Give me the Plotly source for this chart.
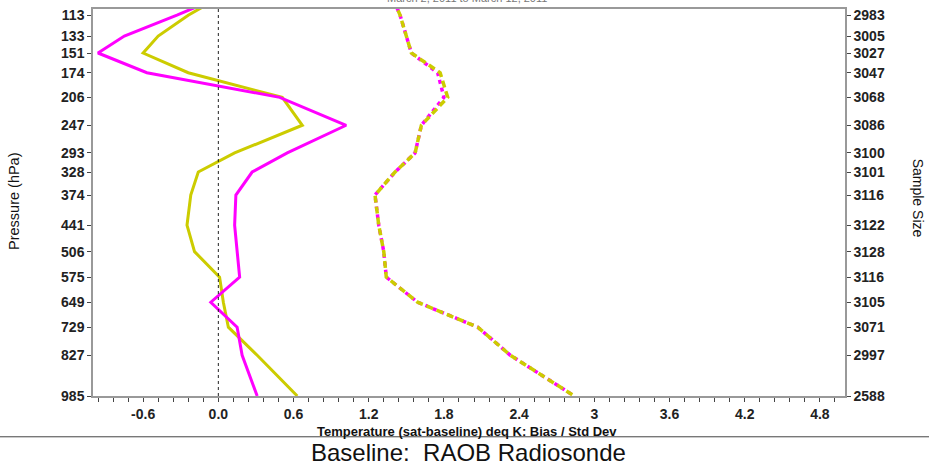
import plotly.graph_objects as go

# ---- data ----
levels = [100, 113, 133, 151, 174, 206, 247, 293, 328, 374, 441, 506, 575, 649, 729, 827, 985]
label_levels = [113, 133, 151, 174, 206, 247, 293, 328, 374, 441, 506, 575, 649, 729, 827, 985]
sample_size = [2983, 3005, 3027, 3047, 3068, 3086, 3100, 3101, 3116, 3122, 3128, 3116, 3105, 3071, 2997, 2588]

bias_magenta = [-0.05, -0.33, -0.75, -0.96, -0.57, 0.49, 1.02, 0.55, 0.27, 0.14, 0.13, 0.15, 0.17, -0.06, 0.15, 0.19, 0.31]
bias_yellow = [-0.03, -0.24, -0.48, -0.60, -0.24, 0.51, 0.67, 0.13, -0.16, -0.22, -0.25, -0.19, 0.01, 0.04, 0.08, 0.31, 0.63]
std_magenta = [1.40, 1.45, 1.50, 1.54, 1.75, 1.80, 1.62, 1.57, 1.41, 1.25, 1.28, 1.32, 1.34, 1.59, 2.07, 2.33, 2.84]
std_yellow = [1.40, 1.45, 1.50, 1.54, 1.77, 1.83, 1.62, 1.57, 1.41, 1.25, 1.28, 1.32, 1.34, 1.59, 2.07, 2.33, 2.84]

x_tickvals = [-0.6, 0.0, 0.6, 1.2, 1.8, 2.4, 3.0, 3.6, 4.2, 4.8]
x_ticktext = ["-0.6", "0.0", "0.6", "1.2", "1.8", "2.4", "3", "3.6", "4.2", "4.8"]

title_text = "March 2, 2011 to March 12, 2011"
x_title = "Temperature (sat-baseline) deq K: Bias / Std Dev"
baseline_text = "Baseline:&nbsp; RAOB Radiosonde"

# vertical pressure scale (p ** K)
K = 0.3
P_TOP, P_BOTTOM = 107.5, 985


def yc(p):
    return p ** K


y_levels = [yc(p) for p in levels]
y_ticks = [yc(p) for p in label_levels]
y_range = [yc(P_BOTTOM), yc(P_TOP)]

MAGENTA = "#FF00FF"
YELLOW = "#CCCC00"
FONT = "Liberation Sans, Arial, sans-serif"

fig = go.Figure()
fig.add_trace(go.Scatter(x=std_magenta, y=y_levels, mode="lines",
                         line=dict(color=MAGENTA, width=3.5, dash="4px,4px"), showlegend=False))
fig.add_trace(go.Scatter(x=std_yellow, y=y_levels, mode="lines",
                         line=dict(color=YELLOW, width=3.5, dash="7px,4px"), showlegend=False))
fig.add_trace(go.Scatter(x=bias_yellow, y=y_levels, mode="lines",
                         line=dict(color=YELLOW, width=3), showlegend=False))
fig.add_trace(go.Scatter(x=bias_magenta, y=y_levels, mode="lines",
                         line=dict(color=MAGENTA, width=3), showlegend=False))
# invisible trace to carry the right-hand sample-size axis
fig.add_trace(go.Scatter(x=[None] * len(y_ticks), y=y_ticks, yaxis="y2", mode="lines",
                         showlegend=False, hoverinfo="skip"))

tickfont = dict(family=FONT, size=14, color="#222", weight="bold")

fig.update_layout(
    width=929, height=467,
    margin=dict(l=93, r=84, t=7, b=71),
    paper_bgcolor="white", plot_bgcolor="white",
    showlegend=False,
    xaxis=dict(range=[-1, 5], tickmode="array", tickvals=x_tickvals, ticktext=x_ticktext,
               ticks="outside", ticklen=4, tickcolor="#444", tickfont=tickfont,
               showline=True, linecolor="#999", linewidth=1.5, mirror=True,
               showgrid=False, zeroline=False,
               minor=dict(tickmode="linear", tick0=0, dtick=0.12, ticks="outside",
                          ticklen=4, tickcolor="#444", showgrid=False)),
    yaxis=dict(range=y_range, tickmode="array", tickvals=y_ticks,
               ticktext=[str(p) for p in label_levels],
               ticks="outside", ticklen=4, tickcolor="#444", tickfont=tickfont,
               showline=True, linecolor="#999", linewidth=1.5, mirror=True,
               showgrid=False, zeroline=False),
    yaxis2=dict(range=y_range, overlaying="y", side="right", tickmode="array",
                tickvals=y_ticks, ticktext=[str(s) for s in sample_size],
                ticks="outside", ticklen=4, tickcolor="#444", tickfont=tickfont,
                showline=True, linecolor="#999", linewidth=1.5,
                showgrid=False, zeroline=False),
    shapes=[
        dict(type="line", xref="x", yref="paper", x0=0, x1=0, y0=0, y1=1,
             line=dict(color="#222", width=1, dash="dot")),
        dict(type="line", xref="paper", yref="paper", x0=-0.2, x1=1.2,
             y0=-0.1054, y1=-0.1054, line=dict(color="#444", width=1)),
    ],
    annotations=[
        dict(text=title_text, xref="paper", yref="paper", x=0.497, y=1.008,
             xanchor="center", yanchor="bottom", showarrow=False,
             font=dict(family=FONT, size=11, color="#777")),
        dict(text="Pressure (hPa)", xref="paper", yref="paper", x=-0.105, y=0.504,
             xanchor="center", yanchor="middle", textangle=-90, showarrow=False,
             font=dict(family=FONT, size=14.5, color="#111")),
        dict(text="Sample Size", xref="paper", yref="paper", x=1.097, y=0.51,
             xanchor="center", yanchor="middle", textangle=90, showarrow=False,
             font=dict(family=FONT, size=14, color="#111")),
        dict(text=x_title, xref="paper", yref="paper", x=0.497, y=-0.091,
             xanchor="center", yanchor="middle", showarrow=False,
             font=dict(family=FONT, size=13, color="#111", weight="bold")),
        dict(text=baseline_text, xref="paper", yref="paper", x=0.4987, y=-0.1465,
             xanchor="center", yanchor="middle", showarrow=False,
             font=dict(family=FONT, size=24, color="#111")),
    ],
)

fig.write_html("out.html")
